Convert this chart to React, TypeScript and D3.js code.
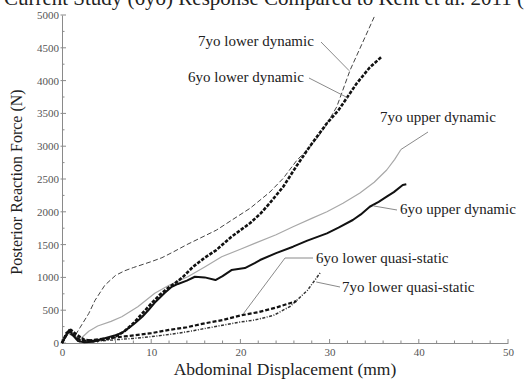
import { useEffect, useRef } from 'react';
import * as d3 from 'd3';

type Pt = [number, number];

// displacement (mm), force (N)
const sevenLowerDynamic: Pt[] = [
  [0, 0], [0.5, 140], [1, 190], [1.5, 120], [2, 230], [3, 450], [3.7, 650], [4.8, 880],
  [6, 1030], [7, 1100], [8, 1150], [10, 1240], [11.2, 1300], [12.5, 1390], [14, 1500],
  [15.5, 1600], [17.3, 1720], [19, 1870], [21.1, 2055], [23.3, 2300], [24.8, 2510],
  [26.3, 2780], [28, 3020], [29.3, 3250], [30.8, 3600], [32.3, 4160], [33.7, 4580], [35.1, 5000],
];

const sixLowerDynamic: Pt[] = [
  [0, 0], [0.5, 150], [1, 200], [1.6, 130], [2.5, 50], [3.5, 30], [5, 60], [6, 100],
  [7, 180], [8, 300], [9, 450], [10, 600], [11, 740], [12, 850], [12.7, 914], [13.5, 1000],
  [14.7, 1163], [16, 1300], [17.3, 1417], [19, 1620], [21.1, 1829], [22.3, 1980],
  [23.3, 2134], [24.8, 2382], [26.3, 2700], [27.8, 3000], [29.7, 3350], [31, 3550],
  [31.9, 3730], [33, 3950], [34.5, 4200], [35.8, 4360],
];

const sevenUpperDynamic: Pt[] = [
  [0, 0], [0.7, 150], [1.3, 100], [2.2, 80], [3, 180], [4, 260], [5.5, 330], [6.7, 401],
  [8.5, 554], [10.4, 757], [12, 880], [14.1, 1010], [16, 1160], [17.9, 1315], [20, 1430],
  [21.6, 1519], [24, 1650], [25.9, 1773], [28, 1900], [29.7, 2001], [31.5, 2130],
  [33.4, 2286], [35, 2450], [36.4, 2637], [37.3, 2800], [38, 2950],
];

const sixUpperDynamic: Pt[] = [
  [0, 0], [0.4, 100], [0.8, 200], [1.2, 120], [1.8, 30], [2.5, 10], [3.5, 20], [4.1, 46],
  [5, 80], [6, 120], [6.7, 152], [7.5, 230], [8.2, 305], [9, 400], [9.7, 503], [10.5, 630],
  [11.5, 762], [12.3, 858], [13, 900], [14, 950], [14.9, 1010], [16, 1000], [17.2, 960],
  [18, 1020], [19, 1112], [20.5, 1143], [21.6, 1219], [22.2, 1265], [24, 1370], [25.9, 1468],
  [27.5, 1560], [29.7, 1672], [31, 1760], [32.6, 1875], [33.5, 1960], [34.5, 2077],
  [35.5, 2150], [36.4, 2230], [37.2, 2300], [38.2, 2408], [38.6, 2420],
];

const sixLowerQuasi: Pt[] = [
  [0, 0], [0.5, 120], [0.9, 180], [1.5, 100], [2.2, 30], [3, 40], [5, 70], [7, 100],
  [10, 150], [12, 200], [14, 240], [16, 300], [18, 350], [20, 420], [22, 470], [24, 540],
  [26.3, 640],
];

const sevenLowerQuasi: Pt[] = [
  [0, 0], [0.6, 150], [1.2, 120], [2, 40], [4, 30], [6, 50], [8, 70], [10, 96], [12, 130],
  [14, 170], [16, 220], [18, 270], [20, 320], [21.6, 350], [23.7, 420], [25.6, 560],
  [27.5, 800], [29, 1080],
];

const seriesNames = [
  '7yo lower dynamic',
  '6yo lower dynamic',
  '7yo upper dynamic',
  '6yo upper dynamic',
  '6yo lower quasi-static',
  '7yo lower quasi-static',
];

const xTicks = [0, 10, 20, 30, 40, 50];
const yTicks = [0, 500, 1000, 1500, 2000, 2500, 3000, 3500, 4000, 4500, 5000];

const W = 525;
const H = 381;
const SERIF = '"Liberation Serif", "DejaVu Serif", serif';

function App() {
  const svgRef = useRef<SVGSVGElement>(null);

  useEffect(() => {
    if (!svgRef.current) return;
    const svg = d3.select(svgRef.current);
    svg.selectAll('*').remove();

    const x = d3.scaleLinear().domain([0, 50]).range([62, 508]);
    const y = d3.scaleLinear().domain([0, 5000]).range([343, 15]);
    const axisColor = '#8a8a8a';

    // title, clipped at the top like the original
    svg.append('text')
      .attr('x', 524).attr('y', 5)
      .attr('text-anchor', 'end')
      .attr('font-family', SERIF).attr('font-size', 21)
      .attr('fill', '#222')
      .text('Current Study (6yo) Response Compared to Kent et al. 2011 (');

    // axes
    const xAxis = svg.append('g').attr('transform', `translate(0,${y(0)})`);
    xAxis.call(d3.axisBottom(x).tickValues(xTicks).tickSize(0).tickPadding(5));
    xAxis.select('.domain').attr('stroke', axisColor);
    xAxis.selectAll('text').attr('font-family', SERIF).attr('font-size', 11).attr('fill', '#555');
    xAxis.selectAll('.minor')
      .data(d3.range(0, 51, 2))
      .enter().append('line')
      .attr('x1', d => x(d)).attr('x2', d => x(d))
      .attr('y1', 0).attr('y2', d => (d % 10 === 0 ? -4 : -2.5))
      .attr('stroke', axisColor);

    const yAxis = svg.append('g').attr('transform', `translate(${x(0)},0)`);
    yAxis.call(d3.axisLeft(y).tickValues(yTicks).tickSize(0).tickPadding(3).tickFormat(d3.format('d')));
    yAxis.select('.domain').attr('stroke', axisColor);
    yAxis.selectAll('text').attr('font-family', SERIF).attr('font-size', 11).attr('fill', '#555');
    yAxis.selectAll('.minor')
      .data(d3.range(0, 5001, 250))
      .enter().append('line')
      .attr('y1', d => y(d)).attr('y2', d => y(d))
      .attr('x1', d => (d % 500 === 0 ? -1.5 : 0)).attr('x2', d => (d % 500 === 0 ? 4 : 2.5))
      .attr('stroke', axisColor);

    svg.append('text')
      .attr('transform', `translate(22,${(y(0) + y(5000)) / 2 + 3}) rotate(-90)`)
      .attr('text-anchor', 'middle')
      .attr('font-family', SERIF).attr('font-size', 16).attr('fill', '#222')
      .text('Posterior Reaction Force (N)');

    svg.append('text')
      .attr('x', (x(0) + x(50)) / 2).attr('y', 375)
      .attr('text-anchor', 'middle')
      .attr('font-family', SERIF).attr('font-size', 17.5).attr('fill', '#222')
      .text('Abdominal Displacement (mm)');

    // curves
    const line = d3.line<Pt>().x(d => x(d[0])).y(d => y(d[1]));
    const series = [
      { data: sevenUpperDynamic, color: '#a8a8a8', width: 1.2, dash: null },
      { data: sevenLowerQuasi, color: '#333', width: 1.5, dash: '3,1.5,1,1.5' },
      { data: sixLowerQuasi, color: '#111', width: 2.2, dash: '4,2' },
      { data: sevenLowerDynamic, color: '#444', width: 1, dash: '5,2.5' },
      { data: sixLowerDynamic, color: '#111', width: 2.6, dash: '3.5,1.5' },
      { data: sixUpperDynamic, color: '#111', width: 2, dash: null },
    ];
    series.forEach(s => {
      svg.append('path')
        .attr('d', line(s.data))
        .attr('fill', 'none')
        .attr('stroke', s.color)
        .attr('stroke-width', s.width)
        .attr('stroke-linejoin', 'round')
        .attr('stroke-dasharray', s.dash);
    });

    // labels with leader lines: text start, baseline, leader polyline
    const labelLayout: { tx: number; ty: number; lead: [number, number][] }[] = [
      { tx: 198, ty: 46, lead: [[321, 42], [x(32.2), y(4150)]] },
      { tx: 188, ty: 82, lead: [[309, 78], [x(32), y(3740)]] },
      { tx: 380, ty: 122, lead: [[428, 132], [x(38), y(2950)]] },
      { tx: 400, ty: 214, lead: [[397, 210], [x(34.9), y(2090)]] },
      { tx: 316, ty: 263, lead: [[313, 258], [285, 258], [x(20.3), y(440)]] },
      { tx: 342, ty: 292, lead: [[340, 287], [x(28.5), y(930)]] },
    ];
    labelLayout.forEach((l, i) => {
      svg.append('path')
        .attr('d', d3.line()(l.lead))
        .attr('fill', 'none')
        .attr('stroke', '#8a8a8a')
        .attr('stroke-width', 1);
      svg.append('text')
        .attr('x', l.tx).attr('y', l.ty)
        .attr('font-family', SERIF).attr('font-size', 15).attr('fill', '#222')
        .text(seriesNames[i]);
    });
  }, []);

  return (
    <svg
      ref={svgRef}
      width={W}
      height={H}
      style={{ position: 'absolute', left: 0, top: 0, background: '#fff' }}
    />
  );
}

export default App;
